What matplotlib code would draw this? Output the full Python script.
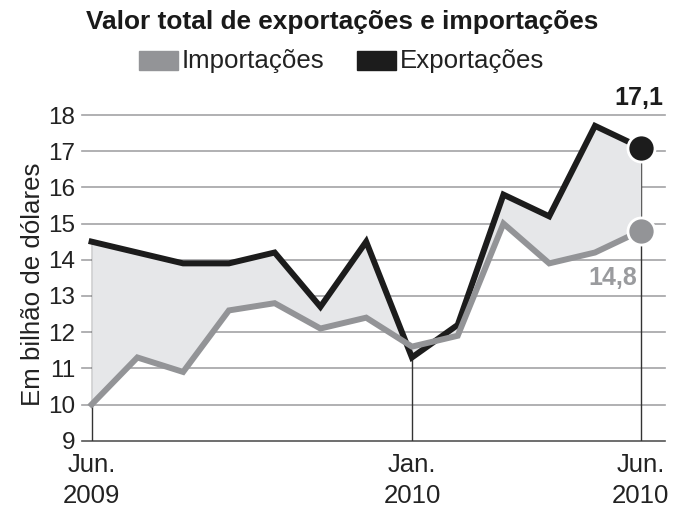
import matplotlib
matplotlib.use("Agg")
import matplotlib.pyplot as plt
from matplotlib.patches import Rectangle

plt.rcParams['font.family'] = ['Liberation Sans', 'DejaVu Sans']

# monthly values, Jun 2009 .. Jun 2010 (US$ billion)
months = ['Jun.\n2009', 'Jul', 'Ago', 'Set', 'Out', 'Nov', 'Dez',
          'Jan.\n2010', 'Fev', 'Mar', 'Abr', 'Mai', 'Jun.\n2010']
exportacoes = [14.5, 14.2, 13.9, 13.9, 14.2, 12.7, 14.5,
               11.3, 12.2, 15.8, 15.2, 17.7, 17.1]
importacoes = [10.0, 11.3, 10.9, 12.6, 12.8, 12.1, 12.4,
               11.6, 11.9, 15.0, 13.9, 14.2, 14.8]
labeled_idx = [0, 7, 12]
yticks = [9, 10, 11, 12, 13, 14, 15, 16, 17, 18]

c_exp = '#1c1c1c'
c_imp = '#939497'
c_fill = '#e6e7e9'

W, H = 677, 508
fig = plt.figure(figsize=(W / 100, H / 100), dpi=100)
ax = fig.add_axes([82 / W, (H - 440.7) / H, 583 / W, 325.7 / H])

x = list(range(len(months)))
ax.set_xlim(-0.21, 12.53)
ax.set_ylim(9, 18)

# horizontal rules
for v in yticks:
    ax.axhline(v, color='#555555' if v == 9 else '#a3a3a5',
               lw=1.2, zorder=1, clip_on=False)

# drop lines under the labelled months
for i in labeled_idx:
    ax.plot([i, i], [9, max(exportacoes[i], importacoes[i])],
            color='#333333', lw=1.0, zorder=2)

ax.fill_between(x, importacoes, exportacoes, color=c_fill, zorder=2, lw=0)
ax.plot(x, exportacoes, color=c_exp, lw=4.3, zorder=3,
        solid_joinstyle='miter', clip_on=False)
ax.plot(x, importacoes, color=c_imp, lw=4.3, zorder=4,
        solid_joinstyle='miter', clip_on=False)

ax.plot(x[-1], exportacoes[-1], 'o', ms=19.5, color=c_exp, mec='white',
        mew=2, zorder=6, clip_on=False)
ax.plot(x[-1], importacoes[-1], 'o', ms=19.5, color=c_imp, mec='white',
        mew=2, zorder=6, clip_on=False)

ax.annotate(f'{exportacoes[-1]:.1f}'.replace('.', ','),
            (x[-1], exportacoes[-1]), xytext=(16, 36),
            textcoords='offset points', ha='right', va='center',
            fontsize=18, fontweight='bold', color=c_exp)
ax.annotate(f'{importacoes[-1]:.1f}'.replace('.', ','),
            (x[-1], importacoes[-1]), xytext=(-20, -34),
            textcoords='offset points', ha='center', va='center',
            fontsize=18, fontweight='bold', color='#9a9b9e')

for s in ax.spines.values():
    s.set_visible(False)
ax.set_yticks(yticks)
ax.set_yticklabels([str(v) for v in yticks], fontsize=17.5, color='#222222')
ax.set_xticks([x[i] for i in labeled_idx])
ax.set_xticklabels([months[i] for i in labeled_idx], fontsize=18.5,
                   color='#222222', linespacing=1.4)
ax.tick_params(axis='both', length=0)
ax.tick_params(axis='y', pad=5)
ax.tick_params(axis='x', pad=8.5)

fig.text(33 / W, 1 - 284 / H, 'Em bilhão de dólares', rotation=90,
         ha='center', va='center', fontsize=18.6, color='#222222')

fig.text(342 / W, 1 - 22 / H, 'Valor total de exportações e importações',
         ha='center', va='center', fontsize=18.9, fontweight='bold',
         color='#1a1a1a')

# legend
for x0, col, lab in [(139, c_imp, 'Importações'), (357, c_exp, 'Exportações')]:
    fig.patches.append(Rectangle((x0 / W, 1 - 70 / H), 39 / W, 19 / H,
                                 transform=fig.transFigure, color=col))
    fig.text((x0 + 43) / W, 1 - 61 / H, lab, ha='left', va='center',
             fontsize=18.6, color='#222222')

fig.savefig('out.png', dpi=100)
